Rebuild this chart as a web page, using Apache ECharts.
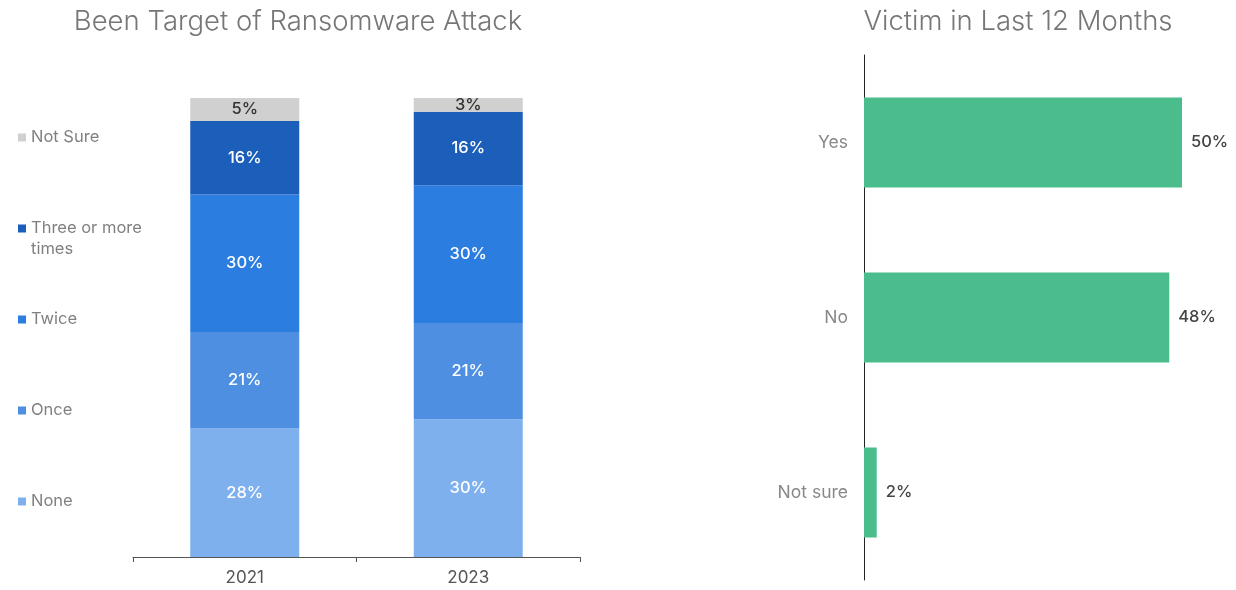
<!DOCTYPE html>
<html>
<head>
<meta charset="utf-8">
<script src="https://cdn.jsdelivr.net/npm/echarts@6/dist/echarts.min.js"></script>
<style>
  html, body { margin: 0; padding: 0; background: #ffffff; }
  #chart { width: 1236px; height: 590px; }
</style>
</head>
<body>
<div id="chart"></div>
<script>
// Survey results: ransomware targeting by year, and victims in the last 12 months
const years = ['2021', '2023'];
const noneVals = [28, 30];
const onceVals = [21, 21];
const twiceVals = [30, 30];
const threePlusVals = [16, 16];
const notSureVals = [5, 3];

const victimCats = ['Yes', 'No', 'Not sure'];
const victimVals = [50, 48, 2];

const FONT = 'Inter, Roboto, "Noto Sans", sans-serif';

// stacked segments, bottom to top
const stackDefs = [
  { name: 'None', data: noneVals, color: '#7eb0ee', labelColor: '#ffffff' },
  { name: 'Once', data: onceVals, color: '#4f8fe2', labelColor: '#ffffff' },
  { name: 'Twice', data: twiceVals, color: '#2b7de0', labelColor: '#ffffff' },
  { name: 'Three or more times', data: threePlusVals, color: '#1c5fbb', labelColor: '#ffffff' },
  { name: 'Not Sure', data: notSureVals, color: '#d0d0d0', labelColor: '#333333' }
];

// one legend block per entry so each can sit at its own height
const legendTops = { 'Not Sure': 122, 'Three or more times': 213, 'Twice': 304, 'Once': 395, 'None': 486 };

// square marker pinned to the top of a tall box, so it lines up with the first text line
const TOP_SQUARE = 'path://M0,0h8v8h-8z M0,29h0.01v0.01h-0.01z';

const legends = stackDefs.map(d => {
  const wrapped = d.name === 'Three or more times';
  return {
    data: [d.name],
    left: 13,
    top: legendTops[d.name],
    orient: 'vertical',
    icon: wrapped ? TOP_SQUARE : 'rect',
    itemWidth: 8,
    itemHeight: wrapped ? 29 : 8,
    itemGap: 0,
    selectedMode: false,
    formatter: n => n === 'Three or more times' ? 'Three or more\ntimes' : n,
    textStyle: {
      color: '#808080',
      fontSize: 16.5,
      fontFamily: FONT,
      lineHeight: 21
    }
  };
});

const stackSeries = stackDefs.map(d => ({
  name: d.name,
  type: 'bar',
  stack: 'attack',
  xAxisIndex: 0,
  yAxisIndex: 0,
  barWidth: 109,
  data: d.data,
  itemStyle: { color: d.color },
  label: {
    show: true,
    position: 'inside',
    formatter: p => p.value + '%',
    color: d.labelColor,
    fontSize: 16.5,
    fontWeight: 500,
    fontFamily: FONT
  }
}));

const option = {
  backgroundColor: '#ffffff',
  animation: false,
  title: [
    {
      text: 'Been Target of Ransomware Attack',
      left: 293, top: 3, textAlign: 'center',
      textStyle: { color: '#777777', fontSize: 27.5, fontWeight: 300, fontFamily: FONT }
    },
    {
      text: 'Victim in Last 12 Months',
      left: 1013, top: 3, textAlign: 'center',
      textStyle: { color: '#777777', fontSize: 27.5, fontWeight: 300, fontFamily: FONT }
    }
  ],
  legend: legends,
  grid: [
    { left: 133, right: 656, top: 98, bottom: 33 },
    { left: 864, right: 54, top: 55, bottom: 10 }
  ],
  xAxis: [
    {
      type: 'category', gridIndex: 0, data: years,
      axisLine: { lineStyle: { color: '#555555', width: 1 } },
      axisTick: { show: true, length: 5, lineStyle: { color: '#555555' } },
      axisLabel: { color: '#555555', fontSize: 17, margin: 12, fontFamily: FONT }
    },
    {
      type: 'value', gridIndex: 1, min: 0, max: 50, show: false
    }
  ],
  yAxis: [
    {
      type: 'value', gridIndex: 0, min: 0, max: 100, show: false
    },
    {
      type: 'category', gridIndex: 1, data: victimCats, inverse: true,
      axisLine: { show: true, lineStyle: { color: '#222222', width: 1 } },
      axisTick: { show: false },
      axisLabel: { color: '#888888', fontSize: 17.5, margin: 16, fontFamily: FONT },
      splitLine: { show: false }
    }
  ],
  series: stackSeries.concat([
    {
      name: 'Victim',
      type: 'bar',
      xAxisIndex: 1,
      yAxisIndex: 1,
      barWidth: 90,
      data: victimVals,
      itemStyle: { color: '#4bbd8d' },
      label: {
        show: true,
        position: 'right',
        distance: 9,
        formatter: p => p.value + '%',
        color: '#444444',
        fontSize: 16.5,
        fontWeight: 500,
        fontFamily: FONT
      }
    }
  ])
};

const chart = echarts.init(document.getElementById('chart'), null, { renderer: 'canvas' });
chart.setOption(option);
</script>
</body>
</html>
